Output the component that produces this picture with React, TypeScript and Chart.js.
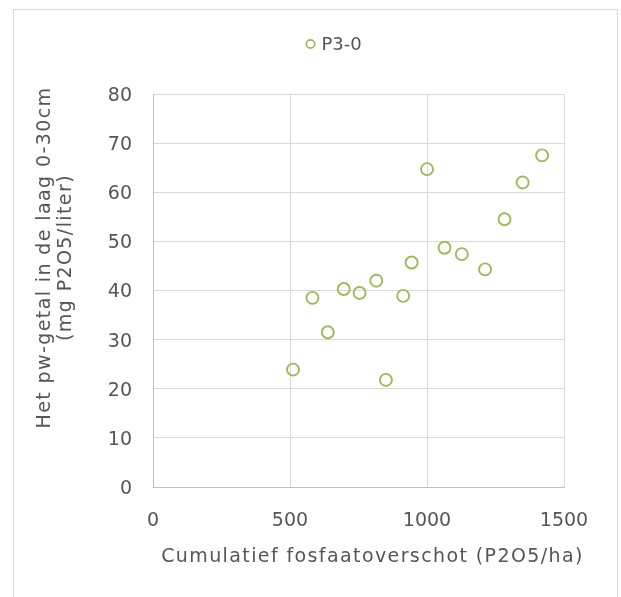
import React, { useEffect, useRef } from "react";
import { Chart, registerables } from "chart.js";

Chart.register(...registerables);

// Cumulative phosphate surplus (kg P2O5/ha) per plot
const surplus = [511, 582, 638, 696, 754, 815, 850, 913, 944, 1000, 1064, 1127, 1212, 1283, 1349, 1420];
// Pw value in the 0-30 cm layer (mg P2O5/liter)
const pwValue = [23.9, 38.5, 31.5, 40.3, 39.5, 42.0, 21.8, 38.9, 45.7, 64.7, 48.7, 47.4, 44.3, 54.5, 62.0, 67.5];

const seriesLabel = "P3-0";
const xTitle = "Cumulatief fosfaatoverschot (P2O5/ha)";
const yTitle = ["Het pw-getal in de laag 0-30cm", "(mg P2O5/liter)"];

const FONT = "'DejaVu Sans', Verdana, sans-serif";
const TEXT = "#555555";
const GREEN = "#9BBB59";

// Draws the legend entry and both axis titles, placed relative to the plot area.
const annotations = {
  id: "annotations",
  afterDraw(chart: any) {
    const { ctx, chartArea } = chart;
    ctx.save();
    ctx.fillStyle = TEXT;
    ctx.font = `19px ${FONT}`;
    (ctx as any).letterSpacing = "1.4px";

    // x axis title
    ctx.textAlign = "center";
    ctx.textBaseline = "middle";
    ctx.fillText(xTitle, (chartArea.left + chartArea.right) / 2 + 14, chartArea.bottom + 70);

    // y axis title (two rotated lines)
    ctx.save();
    ctx.translate(0, (chartArea.top + chartArea.bottom) / 2 - 33);
    ctx.rotate(-Math.PI / 2);
    ctx.fillText(yTitle[0], 0, 31.5);
    ctx.fillText(yTitle[1], 0, 52);
    ctx.restore();

    // legend
    const lx = (chartArea.left + chartArea.right) / 2 - 48;
    const ly = chartArea.top - 50;
    ctx.beginPath();
    ctx.arc(lx, ly, 4.2, 0, Math.PI * 2);
    ctx.strokeStyle = GREEN;
    ctx.lineWidth = 1.75;
    ctx.stroke();
    (ctx as any).letterSpacing = "0px";
    ctx.textAlign = "left";
    ctx.font = `18px ${FONT}`;
    ctx.fillText(seriesLabel, lx + 11, ly + 1);
    ctx.restore();
  },
};

const plainTick = (v: any) => String(v);

export default function App() {
  const canvasRef = useRef<HTMLCanvasElement | null>(null);

  useEffect(() => {
    if (!canvasRef.current) return;
    const chart = new Chart(canvasRef.current, {
      type: "scatter",
      data: {
        datasets: [
          {
            label: seriesLabel,
            data: surplus.map((x, i) => ({ x, y: pwValue[i] })),
            pointRadius: 6,
            pointHoverRadius: 6,
            pointBorderWidth: 1.9,
            pointBackgroundColor: "rgba(0,0,0,0)",
            pointBorderColor: GREEN,
            showLine: false,
          },
        ],
      },
      options: {
        responsive: false,
        animation: false,
        layout: { padding: { left: 0, right: 53, top: 84, bottom: 0 } },
        plugins: {
          legend: { display: false },
          tooltip: { enabled: false },
        },
        scales: {
          x: {
            type: "linear",
            min: 0,
            max: 1500,
            ticks: {
              stepSize: 500,
              color: TEXT,
              font: { family: FONT, size: 19 },
              padding: 23,
              callback: plainTick,
            },
            grid: { color: "#d9d9d9", drawTicks: false },
            border: { color: "#bfbfbf" },
            afterFit: (s: any) => {
              s.height = 113;
            },
          },
          y: {
            type: "linear",
            min: 0,
            max: 80,
            ticks: {
              stepSize: 10,
              color: TEXT,
              font: { family: FONT, size: 19 },
              padding: 21,
              labelOffset: 2,
              callback: plainTick,
            },
            grid: { color: "#d9d9d9", drawTicks: false },
            border: { color: "#bfbfbf" },
            afterFit: (s: any) => {
              s.width = 139;
            },
          },
        },
      },
      plugins: [annotations],
    });
    return () => chart.destroy();
  }, []);

  return (
    <div
      style={{
        position: "absolute",
        left: 13,
        top: 9,
        width: 603,
        height: 600,
        border: "1px solid #d9d9d9",
        background: "#fff",
      }}
    >
      <canvas ref={canvasRef} width={603} height={590} style={{ display: "block" }} />
    </div>
  );
}
